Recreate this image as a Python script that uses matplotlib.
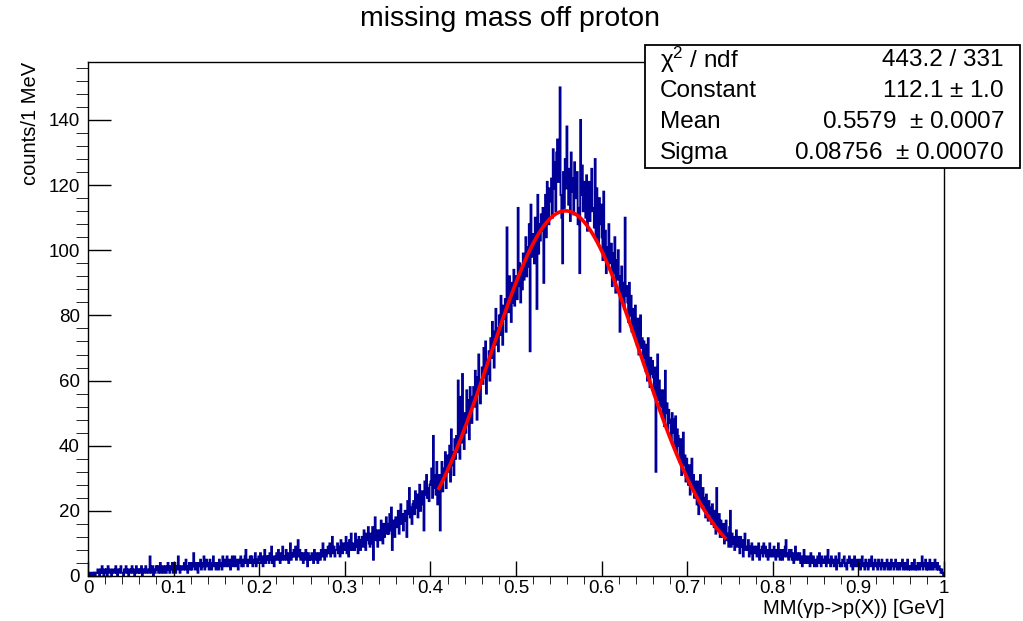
import numpy as np
import matplotlib
matplotlib.use('Agg')
import matplotlib.pyplot as plt
from matplotlib.ticker import MultipleLocator
from matplotlib.patches import Rectangle

plt.rcParams['font.family'] = ['Liberation Sans', 'DejaVu Sans']
plt.rcParams['mathtext.default'] = 'regular'

# histogram: 1000 bins of 1 MeV from 0 to 1 GeV
counts = [
    # 0.00 - 0.10
    0,0,1,0,0,1,0,1,0,1, 1,2,1,0,2,1,3,1,0,2, 1,2,0,3,1,1,2,0,1,2, 2,1,3,1,0,2,1,2,3,1,
    1,0,2,1,3,2,1,0,2,1, 2,3,1,2,0,1,3,2,1,2, 1,2,3,0,2,1,2,3,1,2, 2,1,6,2,1,3,0,2,1,3,
    2,3,1,2,4,1,2,3,1,2, 3,1,2,4,2,1,3,2,4,1,
    # 0.10 - 0.20
    2,4,1,3,2,6,3,1,2,3, 3,2,4,2,5,3,1,3,4,2, 4,2,3,7,3,2,4,3,1,4, 3,5,2,4,3,6,2,3,5,3,
    4,2,5,3,2,4,6,3,4,2, 3,4,2,5,3,4,2,6,3,4, 5,3,6,4,3,5,2,4,6,3, 4,6,3,5,4,2,5,4,6,3,
    5,3,4,6,8,4,3,5,4,6, 4,6,3,5,4,7,3,5,4,6,
    # 0.20 - 0.30
    5,7,4,6,3,5,8,4,6,5, 6,4,7,5,9,4,6,3,5,6, 7,5,8,6,4,7,5,9,6,5, 6,8,5,7,4,6,10,5,7,6,
    8,6,9,5,7,11,6,8,5,7, 6,4,7,5,8,6,3,7,5,6, 5,7,6,4,8,5,7,6,4,7, 7,5,8,6,10,7,5,8,6,7,
    9,7,10,6,8,12,7,9,6,8, 8,10,7,9,6,11,8,7,10,8,
    # 0.30 - 0.40
    9,12,7,10,6,11,8,13,9,8, 10,8,13,9,11,7,12,10,8,11, 12,9,14,10,8,13,11,15,10,9,
    13,10,15,5,12,18,11,14,9,12, 14,11,17,13,10,16,12,15,18,13, 16,13,19,14,21,8,15,17,12,18,
    18,15,20,13,17,22,16,19,14,18, 20,17,12,23,19,27,18,21,16,22, 23,19,26,21,25,18,24,28,20,23,
    26,22,14,29,25,31,24,27,23,28,
    # 0.40 - 0.50
    29,33,24,43,27,31,25,35,22,30, 31,14,28,35,26,33,30,38,27,34, 37,32,40,29,45,34,38,31,42,36,
    43,38,60,47,36,55,41,62,45,39, 50,44,57,48,54,42,58,51,47,55, 58,52,63,55,48,61,68,57,53,60,
    64,59,70,61,72,56,66,62,69,60, 73,67,78,70,64,75,82,71,76,69, 80,74,86,77,71,83,79,85,75,107,
    87,81,92,85,78,90,84,94,83,88,
    # 0.50 - 0.60
    92,85,113,89,96,84,93,88,99,91, 97,104,92,101,95,108,69,114,98,102,
    105,96,110,101,82,117,99,108,103,111, 106,113,90,110,117,104,121,112,108,119,
    115,122,110,131,119,127,112,130,134,121, 126,150,117,110,96,124,113,128,119,138,
    121,114,125,109,130,118,122,111,127,116, 119,124,108,113,93,140,117,126,112,121,
    118,110,123,106,116,121,109,114,125,112, 113,107,128,104,119,111,102,116,108,114,
    # 0.60 - 0.70
    104,97,118,99,106,93,101,95,108,98, 96,102,89,99,93,104,87,97,91,100,
    92,75,88,95,84,90,82,110,86,89, 84,78,90,80,86,75,82,79,74,83,
    76,71,79,68,74,80,70,73,67,72, 69,63,71,60,73,65,58,67,62,66,
    61,56,64,32,58,68,54,60,52,57, 54,49,57,46,63,50,53,45,51,48,
    47,42,50,44,48,40,49,38,45,43, 40,35,42,31,38,44,34,37,29,36,
    # 0.70 - 0.80
    32,28,34,25,30,36,27,31,24,29, 26,22,29,19,25,31,23,21,27,24, 22,18,25,20,17,23,19,21,16,22,
    18,15,20,13,27,16,14,19,12,17, 15,12,16,10,14,17,11,13,9,15, 20,9,13,10,12,8,11,14,9,12,
    10,7,12,9,11,6,10,13,8,9, 8,11,6,9,7,10,5,8,9,7, 9,6,8,10,5,8,7,9,6,10,
    7,9,6,8,5,7,10,6,8,7,
    # 0.80 - 0.90
    6,9,7,5,8,6,10,7,5,8, 7,5,8,6,9,11,6,7,5,8, 6,8,5,7,4,6,9,5,7,6, 5,7,4,6,3,5,8,4,6,5,
    4,6,5,3,7,5,4,6,3,5, 5,3,6,4,7,5,3,6,4,5, 4,6,3,5,8,4,5,3,6,4, 5,3,4,6,2,5,4,7,3,4,
    3,5,4,6,3,4,2,5,4,6, 4,3,5,2,4,6,3,4,5,3,
    # 0.90 - 1.00
    3,5,2,4,6,3,4,2,5,3, 4,2,5,3,4,6,3,2,4,5, 3,4,2,5,3,4,2,5,3,4, 2,4,3,5,2,3,4,2,5,3,
    4,2,3,5,3,2,4,3,2,4, 3,5,2,3,4,2,3,5,2,3, 2,3,4,2,3,5,2,3,2,4, 3,2,4,3,6,2,4,3,5,2,
    4,2,3,5,2,3,4,2,3,5, 3,2,4,2,3,2,1,2,1,0,
]
bin_edges = np.linspace(0., 1., len(counts) + 1)

# gaussian fit parameters from the stats box
fit_constant = 112.1
fit_mean = 0.5579
fit_sigma = 0.08756
fit_range = [0.41, 0.744]

stats_labels = ['$\\chi^{2}$ / ndf', 'Constant', 'Mean', 'Sigma']
stats_values = ['443.2 / 331', '112.1 $\\pm$ 1.0', '0.5579  $\\pm$ 0.0007',
                '0.08756  $\\pm$ 0.00070']

W, H = 1023, 621
fig = plt.figure(figsize=(W / 100., H / 100.), dpi=100)
ax = fig.add_axes([88. / W, 45. / H, 856. / W, 514. / H])

ax.stairs(counts, bin_edges, color='#000099', lw=1.4)

xf = np.linspace(fit_range[0], fit_range[1], 300)
yf = fit_constant * np.exp(-0.5 * ((xf - fit_mean) / fit_sigma) ** 2)
ax.plot(xf, yf, '-', color='red', lw=2.6)

ax.set_xlim(0., 1.)
ax.set_ylim(0., 157.8)
ax.xaxis.set_major_locator(MultipleLocator(0.1))
ax.xaxis.set_minor_locator(MultipleLocator(0.02))
ax.yaxis.set_major_locator(MultipleLocator(20))
ax.yaxis.set_minor_locator(MultipleLocator(4))
ax.set_xticks(np.arange(0, 1.01, 0.1))
ax.set_xticklabels(['0', '0.1', '0.2', '0.3', '0.4', '0.5', '0.6', '0.7', '0.8', '0.9', '1'])
ax.tick_params(direction='in', labelsize=13.5, width=1.0, colors='black')
ax.tick_params(axis='x', which='major', length=11, pad=3)
ax.tick_params(axis='x', which='minor', length=6)
ax.tick_params(axis='y', which='major', length=16.5, pad=6)
ax.tick_params(axis='y', which='minor', length=8.5)
for s in ax.spines.values():
    s.set_linewidth(1.0)

ax.set_xlabel('MM(\u03b3p->p(X)) [GeV]', fontsize=14.5, loc='right', labelpad=1)
ax.set_ylabel('counts/1 MeV', fontsize=14.5, loc='top')
ax.yaxis.set_label_coords(-0.056, 1.0)

fig.text(510. / W, 1 - 19. / H, 'missing mass off proton', ha='center', va='center',
         fontsize=20.5)

# stats box
box = Rectangle((645. / W, 1 - 168. / H), 375. / W, 123. / H, transform=fig.transFigure,
                facecolor='white', edgecolor='black', lw=1.3, zorder=5)
fig.patches.append(box)
for i in range(len(stats_labels)):
    y = 1 - (60. + 31. * i) / H
    fig.text(660. / W, y, stats_labels[i], ha='left', va='center', fontsize=17.5, zorder=6)
    fig.text(1004. / W, y, stats_values[i], ha='right', va='center', fontsize=17.5, zorder=6)

plt.savefig('out.png', dpi=100)
